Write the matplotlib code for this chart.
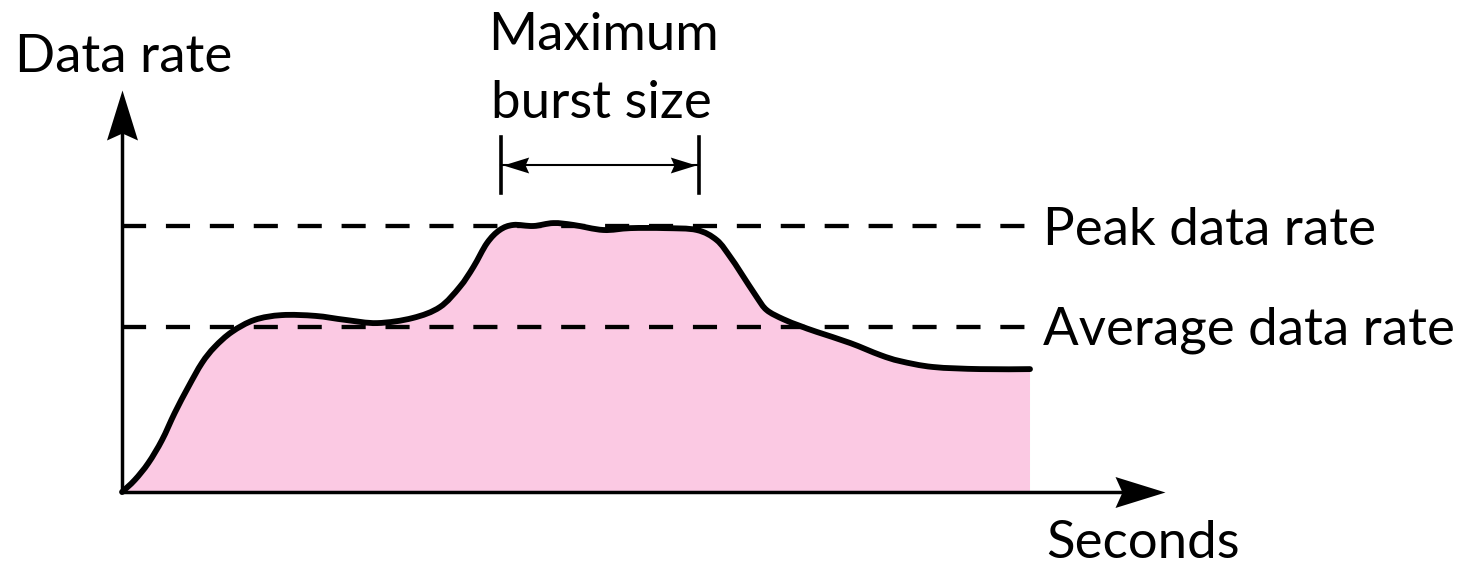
import numpy as np
import matplotlib.pyplot as plt
from matplotlib.path import Path
from matplotlib.patches import PathPatch

# traffic profile (seconds vs data rate, peak = 100)
seconds = [0, 1.4, 2.9, 4.4, 5.8, 7.3, 8.8, 10.2, 12.1, 14.6, 17.6, 21.3, 24.6,
           28.1, 32.0, 35.0, 37.2, 38.7, 40.2, 41.6, 43.1, 45.3, 47.5, 49.7,
           53.0, 56.0, 59.8, 63.3, 65.5, 67.0, 68.1, 69.9, 71.0, 72.8, 74.7,
           76.5, 80.2, 83.5, 85.7, 89.3, 94.5, 100.0]
rate = [0, 4.5, 10.9, 19.5, 29.7, 39.5, 48.5, 54.5, 60.2, 64.7, 66.5, 66.2, 64.7,
        63.5, 65.4, 69.5, 77.1, 84.6, 93.6, 98.5, 100.4, 100.0, 101.1, 100.4,
        98.5, 99.2, 99.2, 98.5, 94.7, 88.3, 82.7, 73.3, 68.4, 65.0, 62.4,
        60.2, 56.0, 51.5, 49.2, 47.0, 46.2, 46.2]

peak_rate = 100
average_rate = 62
burst_start, burst_end = 41.7, 63.5

# axis extents (arrow tips)
x_tip, y_tip = 114.9, 151.1

plt.rcParams['font.family'] = ['Lato', 'DejaVu Sans']


def smooth_path(xs, ys):
    # catmull-rom through the read points, drawn as cubic bezier segments
    pts = np.column_stack([xs, ys]).astype(float)
    ext = np.vstack([pts[0], pts, pts[-1]])
    verts = [pts[0]]
    codes = [Path.MOVETO]
    for i in range(1, len(ext) - 2):
        p0, p1, p2, p3 = ext[i - 1], ext[i], ext[i + 1], ext[i + 2]
        verts += [p1 + (p2 - p0) / 6, p2 - (p3 - p1) / 6, p2]
        codes += [Path.CURVE4] * 3
    return verts, codes


fig = plt.figure(figsize=(14.76, 5.66), dpi=100)
ax = fig.add_axes([0, 0, 1, 1])
ax.set_xlim(-13.44, 149.12)
ax.set_ylim(-27.82, 184.96)
ax.axis('off')

verts, codes = smooth_path(seconds, rate)

# pink area
area = Path(verts + [(seconds[-1], 0), (seconds[0], 0), (seconds[0], 0)],
            codes + [Path.LINETO, Path.LINETO, Path.CLOSEPOLY])
ax.add_patch(PathPatch(area, facecolor='#fbc9e3', edgecolor='none', zorder=1))

for level in (peak_rate, average_rate):
    ax.plot([0, seconds[-1]], [level, level], color='black', lw=3.1,
            dashes=(5.6, 4.6), zorder=2)

# outline
ax.add_patch(PathPatch(Path(verts, codes), facecolor='none', edgecolor='black',
                       lw=4.2, joinstyle='round', capstyle='round', zorder=3))

# stealth style arrow heads
right_head = Path([(0, 0), (-1, 0.31), (-0.86, 0), (-1, -0.31), (0, 0)], closed=True)
left_head = Path([(0, 0), (1, 0.31), (0.86, 0), (1, -0.31), (0, 0)], closed=True)
up_head = Path([(0, 0), (-0.31, -1), (0, -0.86), (0.31, -1), (0, 0)], closed=True)

# axes
ax.plot([0, x_tip - 4.7], [0, 0], color='black', lw=2.5, zorder=4)
ax.plot([0, 0], [0, y_tip - 16], color='black', lw=2.5, zorder=4)
ax.plot([x_tip], [0], marker=right_head, ms=72, color='black', mew=0, zorder=5)
ax.plot([0], [y_tip], marker=up_head, ms=72, color='black', mew=0, zorder=5)

# maximum burst size marker
burst_y = 122.9
for bx in (burst_start, burst_end):
    ax.plot([bx, bx], [112.3, 133.5], color='black', lw=2.6)
ax.plot([burst_start, burst_end], [burst_y, burst_y], color='black', lw=1.5)
ax.plot([burst_start + 0.3], [burst_y], marker=left_head, ms=37, color='black', mew=0)
ax.plot([burst_end - 0.3], [burst_y], marker=right_head, ms=37, color='black', mew=0)

W, H = 1476, 566
fs = 38
fig.text(15 / W, 1 - 72 / H, 'Data rate', fontsize=fs, ha='left', va='baseline')
fig.text(603 / W, 1 - 50 / H, 'Maximum', fontsize=fs, ha='center', va='baseline')
fig.text(601 / W, 1 - 118 / H, 'burst size', fontsize=fs, ha='center', va='baseline')
fig.text(1043 / W, 1 - 245 / H, 'Peak data rate', fontsize=fs, ha='left', va='baseline')
fig.text(1043 / W, 1 - 345 / H, 'Average data rate', fontsize=fs, ha='left', va='baseline')
fig.text(1046 / W, 1 - 558 / H, 'Seconds', fontsize=fs, ha='left', va='baseline')

fig.savefig('out.png', dpi=100)
